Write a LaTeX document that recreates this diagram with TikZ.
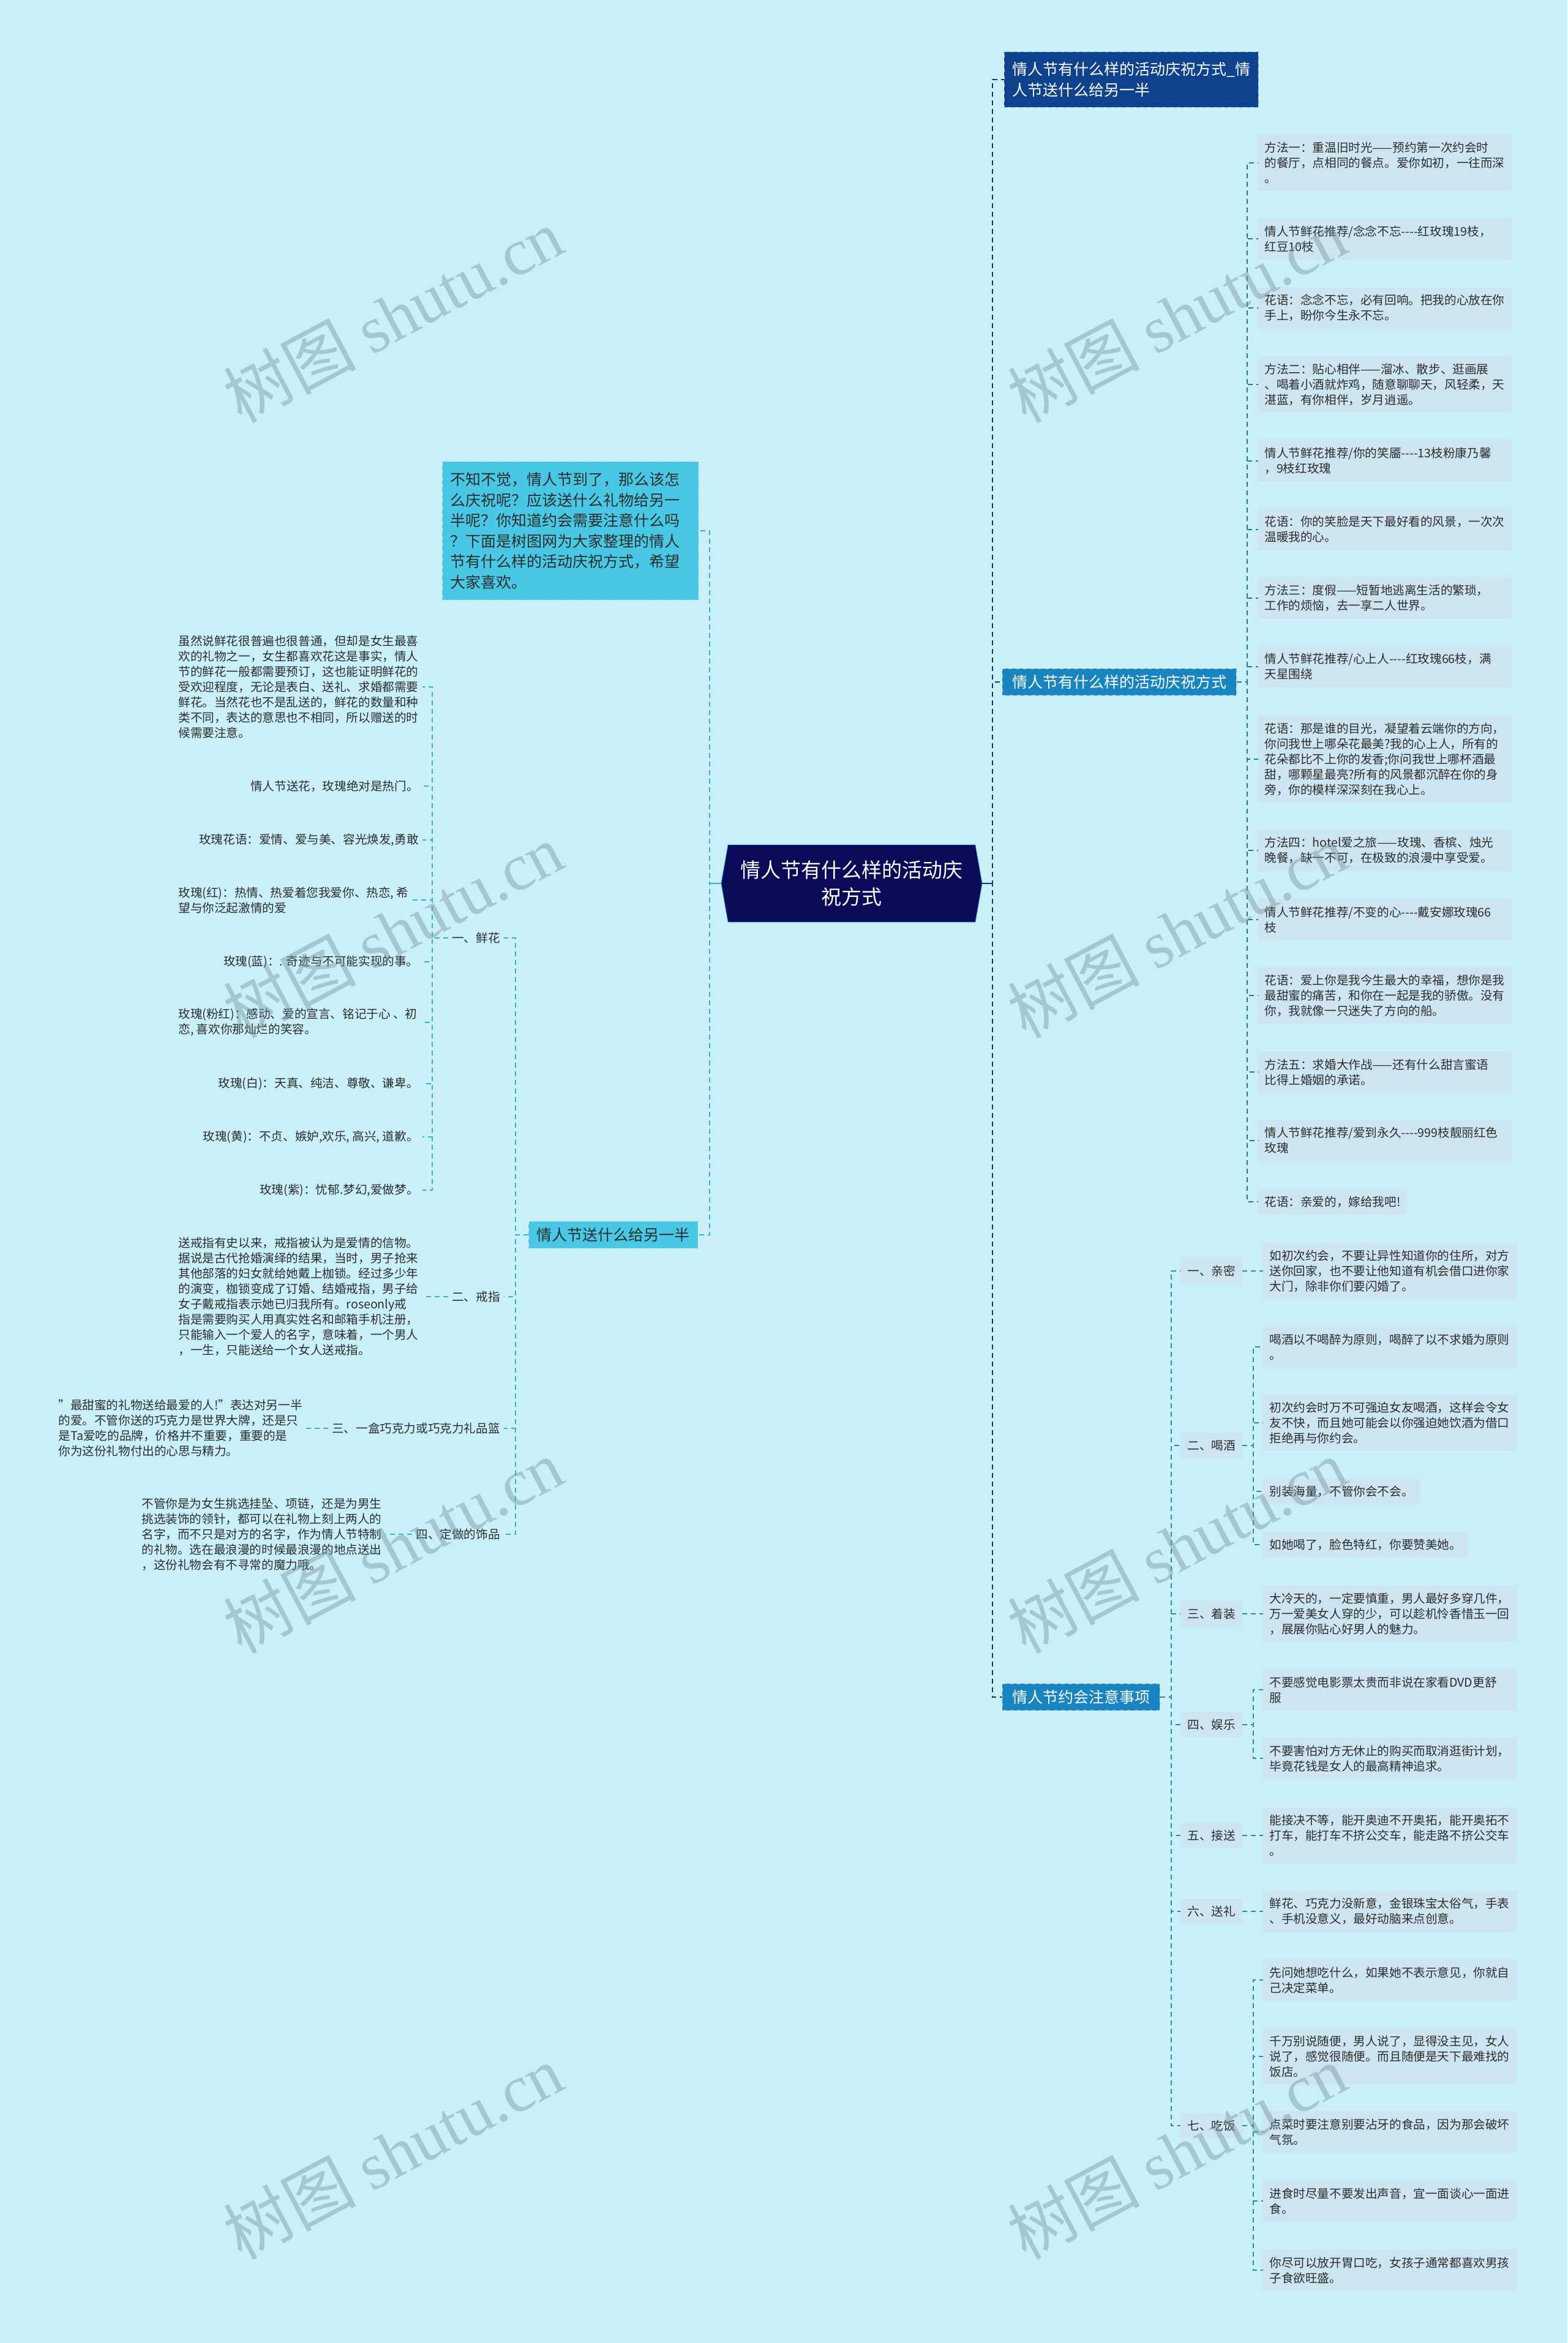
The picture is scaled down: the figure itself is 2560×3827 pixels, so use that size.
\documentclass[tikz,border=0pt]{standalone}
\usepackage{fontspec}
\setmainfont{Noto Sans CJK SC}
\newfontfamily\wmserif{Liberation Serif}
\usepackage{xcolor}
\usetikzlibrary{shapes.symbols}
\definecolor{bgcyan}{RGB}{201,240,248}
\definecolor{notefill}{RGB}{205,229,240}
\definecolor{navyroot}{RGB}{10,10,88}
\definecolor{topblue}{RGB}{14,66,140}
\definecolor{midblue}{RGB}{24,132,192}
\definecolor{cyanfill}{RGB}{72,200,228}
\definecolor{trunknavy}{RGB}{24,52,110}
\definecolor{branchblue}{RGB}{30,118,170}
\definecolor{branchteal}{RGB}{40,140,170}
\definecolor{branchcyan}{RGB}{50,180,206}
\definecolor{textdark}{RGB}{45,45,45}
\definecolor{wmgray}{RGB}{120,150,160}

\newcommand\smallcn{\fontsize{9.8}{12.5}\selectfont}
\newcommand\bigcn{\fontsize{12.5}{16.8}\selectfont}
\newcommand\rootcn{\fontsize{16.5}{22}\selectfont}

\tikzset{
  rootbox/.style={signal, signal to=east and west, signal pointer angle=160, fill=navyroot, draw=midblue, text=white, font=\rootcn, align=center, minimum width=213pt, minimum height=63pt},
  topbox/.style={fill=topblue, draw=branchblue!50!white, dashed, text=white, font=\bigcn, align=left, inner xsep=6.5pt, inner ysep=8.5pt},
  mainbox/.style={fill=midblue, draw=branchblue!50!white, dashed, text=white, font=\bigcn, inner xsep=8pt, inner ysep=5pt},
  cyanbox/.style={fill=cyanfill, draw=branchcyan!70!white, dashed, text=textdark, font=\bigcn, align=left, inner xsep=6.5pt, inner ysep=5pt},
  note/.style={fill=notefill, text=textdark, font=\smallcn, align=left, inner xsep=5pt, inner ysep=6pt},
  fullw/.style={text width=197pt},
  sub/.style={fill=notefill, text=textdark, font=\smallcn, inner xsep=5.5pt, inner ysep=6pt},
  plain/.style={text=textdark, font=\smallcn, align=left, inner xsep=3pt, inner ysep=3pt},
  linkA/.style={draw=trunknavy, line width=1pt, dash pattern=on 4pt off 3pt},
  linkB/.style={draw=branchblue, line width=1pt, dash pattern=on 4pt off 3pt},
  linkC/.style={draw=branchteal, line width=1pt, dash pattern=on 4pt off 3pt},
  linkD/.style={draw=branchcyan, line width=1pt, dash pattern=on 4pt off 3pt},
  wm/.style={text=wmgray, opacity=0.45, rotate=28, font=\fontsize{54}{54}\selectfont}
}

\begin{document}
\begin{tikzpicture}[x=0.5pt, y=-0.5pt]
  \useasboundingbox (0,0) rectangle (2560,3827);
  \fill[bgcyan] (0,0) rectangle (2560,3827);

  \node[rootbox] (root) at (1391,1443) {情人节有什么样的活动庆\\祝方式};

  \node[topbox, anchor=west] (top) at (1640,130) {情人节有什么样的活动庆祝方式\_情\\人节送什么给另一半};
  \node[mainbox, anchor=west] (b2) at (1637,1114) {情人节有什么样的活动庆祝方式};
  \node[mainbox, anchor=west] (b3) at (1637,2772) {情人节约会注意事项};
  \node[cyanbox, anchor=east, text width=196pt, inner ysep=8.5pt] (intro) at (1141,867) {不知不觉，情人节到了，那么该怎\\么庆祝呢？应该送什么礼物给另一\\半呢？你知道约会需要注意什么吗\\？下面是树图网为大家整理的情人\\节有什么样的活动庆祝方式，希望\\大家喜欢。};
  \node[cyanbox, anchor=east] (b4) at (1140,2017) {情人节送什么给另一半};

  \node[note, fullw, anchor=west] (r1) at (2055,266) {方法一：重温旧时光——预约第一次约会时\\的餐厅，点相同的餐点。爱你如初，一往而深\\。};
  \node[note, fullw, anchor=west] (r2) at (2055,390) {情人节鲜花推荐/念念不忘-{}-{}-{}-红玫瑰19枝，\\红豆10枝};
  \node[note, fullw, anchor=west] (r3) at (2055,503) {花语：念念不忘，必有回响。把我的心放在你\\手上，盼你今生永不忘。};
  \node[note, fullw, anchor=west] (r4) at (2055,628) {方法二：贴心相伴——溜冰、散步、逛画展\\、喝着小酒就炸鸡，随意聊聊天，风轻柔，天\\湛蓝，有你相伴，岁月逍遥。};
  \node[note, fullw, anchor=west] (r5) at (2055,753) {情人节鲜花推荐/你的笑靥-{}-{}-{}-13枝粉康乃馨\\，9枝红玫瑰};
  \node[note, fullw, anchor=west] (r6) at (2055,865) {花语：你的笑脸是天下最好看的风景，一次次\\温暖我的心。};
  \node[note, fullw, anchor=west] (r7) at (2055,977) {方法三：度假——短暂地逃离生活的繁琐，\\工作的烦恼，去一享二人世界。};
  \node[note, fullw, anchor=west] (r8) at (2055,1089) {情人节鲜花推荐/心上人-{}-{}-{}-红玫瑰66枝，满\\天星围绕};
  \node[note, fullw, anchor=west] (r9) at (2055,1240) {花语：那是谁的目光，凝望着云端你的方向，\\你问我世上哪朵花最美?我的心上人，所有的\\花朵都比不上你的发香;你问我世上哪杯酒最\\甜，哪颗星最亮?所有的风景都沉醉在你的身\\旁，你的模样深深刻在我心上。};
  \node[note, fullw, anchor=west] (r10) at (2055,1389) {方法四：hotel爱之旅——玫瑰、香槟、烛光\\晚餐，缺一不可，在极致的浪漫中享受爱。};
  \node[note, fullw, anchor=west] (r11) at (2055,1502) {情人节鲜花推荐/不变的心-{}-{}-{}-戴安娜玫瑰66\\枝};
  \node[note, fullw, anchor=west] (r12) at (2055,1626) {花语：爱上你是我今生最大的幸福，想你是我\\最甜蜜的痛苦，和你在一起是我的骄傲。没有\\你，我就像一只迷失了方向的船。};
  \node[note, fullw, anchor=west] (r13) at (2055,1751) {方法五：求婚大作战——还有什么甜言蜜语\\比得上婚姻的承诺。};
  \node[note, fullw, anchor=west] (r14) at (2055,1863) {情人节鲜花推荐/爱到永久-{}-{}-{}-999枝靓丽红色\\玫瑰};
  \node[note, anchor=west] (r15) at (2055,1963) {花语：亲爱的，嫁给我吧!};

  \node[sub, anchor=west] (s1) at (1928,2076) {一、亲密};
  \node[sub, anchor=west] (s2) at (1928,2361) {二、喝酒};
  \node[sub, anchor=west] (s3) at (1928,2636) {三、着装};
  \node[sub, anchor=west] (s4) at (1928,2817) {四、娱乐};
  \node[sub, anchor=west] (s5) at (1928,2998) {五、接送};
  \node[sub, anchor=west] (s6) at (1928,3122) {六、送礼};
  \node[sub, anchor=west] (s7) at (1928,3472) {七、吃饭};

  \node[note, fullw, anchor=west] (t1) at (2063,2076) {如初次约会，不要让异性知道你的住所，对方\\送你回家，也不要让他知道有机会借口进你家\\大门，除非你们要闪婚了。};
  \node[note, fullw, anchor=west] (t2) at (2063,2200) {喝酒以不喝醉为原则，喝醉了以不求婚为原则\\。};
  \node[note, fullw, anchor=west] (t3) at (2063,2324) {初次约会时万不可强迫女友喝酒，这样会令女\\友不快，而且她可能会以你强迫她饮酒为借口\\拒绝再与你约会。};
  \node[note, anchor=west] (t4) at (2063,2436) {别装海量，不管你会不会。};
  \node[note, anchor=west] (t5) at (2063,2523) {如她喝了，脸色特红，你要赞美她。};
  \node[note, fullw, anchor=west] (t6) at (2063,2636) {大冷天的，一定要慎重，男人最好多穿几件，\\万一爱美女人穿的少，可以趁机怜香惜玉一回\\，展展你贴心好男人的魅力。};
  \node[note, fullw, anchor=west] (t7) at (2063,2760) {不要感觉电影票太贵而非说在家看DVD更舒\\服};
  \node[note, fullw, anchor=west] (t8) at (2063,2872) {不要害怕对方无休止的购买而取消逛街计划，\\毕竟花钱是女人的最高精神追求。};
  \node[note, fullw, anchor=west] (t9) at (2063,2998) {能接决不等，能开奥迪不开奥拓，能开奥拓不\\打车，能打车不挤公交车，能走路不挤公交车\\。};
  \node[note, fullw, anchor=west] (t10) at (2063,3122) {鲜花、巧克力没新意，金银珠宝太俗气，手表\\、手机没意义，最好动脑来点创意。};
  \node[note, fullw, anchor=west] (t11) at (2063,3234) {先问她想吃什么，如果她不表示意见，你就自\\己决定菜单。};
  \node[note, fullw, anchor=west] (t12) at (2063,3359) {千万别说随便，男人说了，显得没主见，女人\\说了，感觉很随便。而且随便是天下最难找的\\饭店。};
  \node[note, fullw, anchor=west] (t13) at (2063,3482) {点菜时要注意别要沾牙的食品，因为那会破坏\\气氛。};
  \node[note, fullw, anchor=west] (t14) at (2063,3595) {进食时尽量不要发出声音，宜一面谈心一面进\\食。};
  \node[note, fullw, anchor=west] (t15) at (2063,3708) {你尽可以放开胃口吃，女孩子通常都喜欢男孩\\子食欲旺盛。};

  \node[plain, anchor=east] (x1) at (823,1532) {一、鲜花};
  \node[plain, anchor=east] (x2) at (823,2118) {二、戒指};
  \node[plain, anchor=east] (x3) at (823,2333) {三、一盒巧克力或巧克力礼品篮};
  \node[plain, anchor=east] (x4) at (823,2506) {四、定做的饰品};

  \node[plain, anchor=west] (f1) at (285,1122) {虽然说鲜花很普遍也很普通，但却是女生最喜\\欢的礼物之一，女生都喜欢花这是事实，情人\\节的鲜花一般都需要预订，这也能证明鲜花的\\受欢迎程度，无论是表白、送礼、求婚都需要\\鲜花。当然花也不是乱送的，鲜花的数量和种\\类不同，表达的意思也不相同，所以赠送的时\\候需要注意。};
  \node[plain, anchor=east] (f2) at (690,1284) {情人节送花，玫瑰绝对是热门。};
  \node[plain, anchor=east] (f3) at (690,1372) {玫瑰花语：爱情、爱与美、容光焕发,勇敢};
  \node[plain, anchor=west] (f4) at (285,1470) {玫瑰(红)：热情、热爱着您我爱你、热恋, 希\\望与你泛起激情的爱};
  \node[plain, anchor=east] (f5) at (690,1571) {玫瑰(蓝)：. 奇迹与不可能实现的事。};
  \node[plain, anchor=west] (f6) at (285,1670) {玫瑰(粉红)：感动、爱的宣言、铭记于心 、初\\恋, 喜欢你那灿烂的笑容。};
  \node[plain, anchor=east] (f7) at (690,1770) {玫瑰(白)：天真、纯洁、尊敬、谦卑。};
  \node[plain, anchor=east] (f8) at (690,1857) {玫瑰(黄)：不贞、嫉妒,欢乐, 高兴, 道歉。};
  \node[plain, anchor=east] (f9) at (690,1944) {玫瑰(紫)：忧郁.梦幻,爱做梦。};

  \node[plain, anchor=west] (ring) at (285,2118) {送戒指有史以来，戒指被认为是爱情的信物。\\据说是古代抢婚演绎的结果，当时，男子抢来\\其他部落的妇女就给她戴上枷锁。经过多少年\\的演变，枷锁变成了订婚、结婚戒指，男子给\\女子戴戒指表示她已归我所有。roseonly戒\\指是需要购买人用真实姓名和邮箱手机注册，\\只能输入一个爱人的名字，意味着，一个男人\\，一生，只能送给一个女人送戒指。};
  \node[plain, anchor=west] (choc) at (89,2333) {"最甜蜜的礼物送给最爱的人!"表达对另一半\\的爱。不管你送的巧克力是世界大牌，还是只\\是Ta爱吃的品牌，价格并不重要，重要的是\\你为这份礼物付出的心思与精力。};
  \node[plain, anchor=west] (deco) at (225,2506) {不管你是为女生挑选挂坠、项链，还是为男生\\挑选装饰的领针，都可以在礼物上刻上两人的\\名字，而不只是对方的名字，作为情人节特制\\的礼物。选在最浪漫的时候最浪漫的地点送出\\，这份礼物会有不寻常的魔力哦。};

  \draw[linkA, solid] (root.east) -- ++(17,0);
  \draw[linkD, solid] (root.west) -- ++(-19,0);
  \foreach \n in {top,b2,b3} \draw[linkA] (root.east) -- ++(17,0) |- (\n.west);
  \foreach \n in {intro,b4} \draw[linkD] (root.west) -- ++(-19,0) |- (\n.east);
  \foreach \n in {r1,r2,r3,r4,r5,r6,r7,r8,r9,r10,r11,r12,r13,r14,r15} \draw[linkB] (b2.east) -- ++(17,0) |- (\n.west);
  \foreach \n in {s1,s2,s3,s4,s5,s6,s7} \draw[linkC] (b3.east) -- ++(18,0) |- (\n.west);
  \draw[linkC] (s1.east) -- (t1.west);
  \foreach \n in {t2,t3,t4,t5} \draw[linkC] (s2.east) -- ++(18,0) |- (\n.west);
  \draw[linkC] (s3.east) -- (t6.west);
  \foreach \n in {t7,t8} \draw[linkC] (s4.east) -- ++(18,0) |- (\n.west);
  \draw[linkC] (s5.east) -- (t9.west);
  \draw[linkC] (s6.east) -- (t10.west);
  \foreach \n in {t11,t12,t13,t14,t15} \draw[linkC] (s7.east) -- ++(18,0) |- (\n.west);
  \foreach \n in {x1,x2,x3,x4} \draw[linkD] (b4.west) -- ++(-21,0) |- (\n.east);
  \foreach \n in {f1,f2,f3,f4,f5,f6,f7,f8,f9} \draw[linkD] (x1.west) -- ++(-26,0) |- (\n.east);
  \draw[linkD] (x2.west) -- (ring.east);
  \draw[linkD] (x3.west) -- (choc.east);
  \draw[linkD] (x4.west) -- (deco.east);

  \foreach \y in {515,1520,2525,3515} {
    \node[wm] (wmL\y) at (642,\y) {树图 {\wmserif shutu.cn}};
    \node[wm] (wmR\y) at (1922,\y) {树图 {\wmserif shutu.cn}};
  }
\end{tikzpicture}
\end{document}
